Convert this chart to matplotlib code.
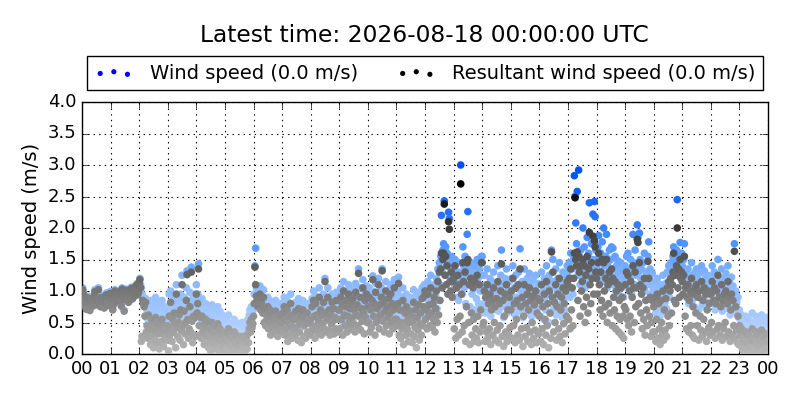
import numpy as np
import matplotlib
matplotlib.use("Agg")
import matplotlib.pyplot as plt
from matplotlib.colors import LinearSegmentedColormap

# ---- data: 40 samples per hour (1.5-minute spacing), values in m/s ----
wind_speed = [
    # 00
    0.95,1.05,0.98,0.88,0.82,0.78,0.74,0.85,0.92,0.80,0.76,0.72,0.84,0.90,0.86,0.79,0.83,0.95,1.02,0.88,
    0.81,0.87,0.92,1.05,0.90,0.84,0.78,0.88,0.93,0.86,0.80,0.76,0.85,0.91,0.97,0.89,0.83,0.80,0.94,0.99,
    # 01
    0.92,0.98,0.88,0.72,0.80,0.95,1.02,0.90,0.85,0.97,0.93,0.88,1.00,0.94,0.86,0.78,1.05,0.98,0.92,0.70,
    0.89,0.95,1.03,0.87,0.91,0.84,0.99,0.93,0.88,1.06,0.96,0.90,1.00,0.94,1.08,0.97,1.02,1.12,0.96,1.00,
    # 02
    1.15,1.20,1.10,1.05,0.95,0.90,0.85,0.80,0.75,0.88,0.62,0.70,0.55,0.82,0.48,0.65,0.58,0.85,0.52,0.75,
    0.45,0.68,0.60,0.90,0.72,0.55,0.80,0.62,0.50,0.78,0.66,0.58,0.85,0.70,0.48,0.62,0.75,0.55,0.68,0.60,
    # 03
    0.70,0.55,0.95,0.62,1.00,0.78,0.48,0.85,0.65,0.90,0.72,0.58,1.10,0.80,0.68,0.75,0.88,0.60,0.95,0.82,
    1.25,0.70,0.58,0.90,0.65,0.78,1.05,1.32,0.85,0.62,0.75,0.98,0.68,1.38,0.80,0.55,0.92,0.72,0.85,0.65,
    # 04
    1.10,0.85,0.95,1.43,0.70,0.60,0.75,0.50,0.88,0.55,0.68,0.45,0.62,0.80,0.40,0.58,0.72,0.35,0.50,0.65,
    0.42,0.55,0.78,0.48,0.62,0.38,0.70,0.52,0.45,0.60,0.75,0.40,0.55,0.68,0.35,0.50,0.62,0.45,0.58,0.48,
    # 05
    0.45,0.30,0.55,0.25,0.40,0.62,0.20,0.35,0.48,0.15,0.30,0.42,0.22,0.55,0.18,0.38,0.50,0.28,0.35,0.45,
    0.25,0.40,0.20,0.32,0.50,0.15,0.28,0.42,0.22,0.36,0.48,0.30,0.55,0.40,0.62,0.70,0.58,0.75,0.60,0.68,
    # 06
    0.75,0.95,1.40,1.68,1.05,0.95,0.88,1.00,0.92,1.08,0.85,0.98,0.90,0.82,1.02,0.70,0.88,0.65,0.80,0.72,
    0.90,0.60,0.78,0.85,0.55,0.68,0.82,0.62,0.75,0.70,0.58,0.85,0.65,0.78,0.52,0.72,0.60,0.80,0.68,0.62,
    # 07
    0.65,0.80,0.55,0.90,0.48,0.72,0.60,0.85,0.40,0.68,0.75,0.52,0.95,0.62,0.45,0.78,0.58,0.70,0.50,0.82,
    0.60,0.72,0.45,0.88,0.55,0.65,0.78,0.42,0.70,0.85,0.52,0.62,0.75,0.48,0.68,0.80,0.58,0.72,0.50,0.65,
    # 08
    0.70,0.55,0.88,0.62,1.00,0.75,0.48,0.92,0.65,0.80,0.58,0.72,1.05,0.60,0.85,0.52,0.78,0.68,0.95,0.62,
    1.20,0.80,0.58,0.72,1.05,0.60,0.85,0.52,0.78,0.68,0.95,0.70,0.88,0.55,0.75,0.62,0.98,0.72,0.58,0.85,
    # 09
    0.85,0.60,1.05,0.72,0.95,0.50,1.15,0.80,0.65,0.90,1.00,0.55,0.78,1.10,0.70,0.88,0.62,0.95,0.75,1.02,
    0.68,0.85,0.58,1.12,0.80,0.92,0.65,1.35,0.78,1.05,0.60,0.88,0.72,1.18,0.82,0.55,0.98,0.75,1.08,0.70,
    # 10
    0.90,0.70,1.05,0.55,0.85,0.62,1.00,1.24,0.78,0.95,0.50,1.12,0.68,0.88,0.75,1.20,0.60,0.92,0.80,1.05,
    1.35,0.72,0.98,0.58,0.85,1.15,0.65,0.90,0.78,1.02,0.55,0.82,1.10,0.70,0.95,0.62,0.88,1.18,0.75,0.92,
    # 11
    0.85,0.70,1.00,1.22,0.60,0.92,0.55,0.78,0.65,1.05,0.48,0.72,0.88,0.58,0.95,0.68,0.80,0.52,0.75,0.90,
    0.62,0.85,0.50,0.78,1.02,0.58,0.70,0.92,0.45,0.82,0.65,0.98,0.55,0.75,0.88,0.60,1.05,0.72,0.95,1.10,
    # 12
    1.05,0.75,0.90,0.60,1.15,0.82,0.95,0.70,1.25,0.88,0.65,1.00,0.78,1.10,0.58,0.92,1.20,0.72,1.35,0.85,
    1.45,1.10,1.55,2.20,1.30,1.65,1.75,2.43,1.50,1.70,1.40,1.60,1.25,2.25,2.15,1.45,1.30,1.55,1.20,1.40,
    # 13
    1.35,1.10,1.50,0.90,1.25,1.05,1.45,0.85,1.30,1.15,3.00,1.20,0.95,1.70,1.40,1.05,1.55,0.80,1.25,1.90,
    2.26,1.10,1.35,0.75,1.45,1.20,0.95,1.30,1.15,0.70,1.40,1.05,0.88,1.50,1.20,0.80,1.35,1.00,1.25,1.55,
    # 14
    1.55,1.00,0.80,1.25,0.65,1.10,0.90,1.35,0.72,1.05,0.85,1.20,0.60,0.95,1.15,0.78,1.30,0.88,1.00,0.70,
    1.12,0.82,1.40,0.68,1.05,0.92,1.25,1.65,0.75,1.10,0.58,0.98,1.20,0.85,1.35,0.65,1.02,0.78,1.15,0.90,
    # 15
    0.95,1.20,0.70,1.40,0.85,1.05,0.62,1.25,0.90,1.10,0.75,1.30,0.68,1.67,1.00,0.80,1.15,0.58,0.92,1.35,
    0.72,1.05,0.85,1.20,0.65,0.98,1.28,0.78,1.10,0.60,0.88,1.18,0.70,1.02,0.82,1.25,0.62,0.95,1.12,0.75,
    # 16
    0.85,1.10,0.60,1.30,0.75,1.00,0.55,1.20,0.90,0.70,1.40,0.80,1.05,0.50,1.25,0.95,0.65,1.65,1.15,1.50,
    0.72,1.08,0.88,1.35,0.62,1.00,1.20,0.78,1.45,0.68,0.95,1.15,0.58,1.30,0.85,1.05,0.70,1.25,0.92,1.40,
    # 17
    1.30,1.05,1.45,0.90,1.60,1.20,1.35,0.95,1.50,2.83,2.50,2.08,1.75,2.58,1.25,2.92,1.55,1.10,1.65,1.35,
    1.45,2.00,1.20,1.70,1.05,1.50,1.30,1.85,1.15,1.60,2.40,1.40,1.25,1.75,1.50,2.22,1.35,2.42,2.18,1.65,
    # 18
    1.50,1.35,1.70,1.88,1.45,1.20,1.60,1.30,1.78,1.15,2.00,1.40,1.25,1.55,1.90,1.05,1.45,1.30,1.65,1.20,
    1.50,1.70,1.10,1.68,1.35,1.25,1.55,1.00,1.40,1.20,1.48,0.95,1.30,1.15,1.45,1.05,1.35,1.20,0.90,1.25,
    # 19
    1.40,1.25,1.55,1.15,1.60,1.05,1.35,1.20,1.50,0.95,1.30,1.90,1.45,1.10,1.65,1.25,1.40,2.05,1.85,1.30,
    1.92,1.50,1.20,1.35,1.05,1.45,1.15,1.60,1.00,1.30,1.25,1.10,1.55,1.78,1.20,1.35,0.95,1.15,1.28,1.05,
    # 20
    1.00,0.80,1.15,0.65,0.90,1.20,0.70,1.05,0.85,0.60,1.10,0.95,0.75,1.25,0.68,0.98,0.82,1.12,0.72,1.30,
    1.05,1.40,0.90,1.25,1.45,1.10,1.35,1.55,1.70,1.30,1.50,1.25,1.65,2.45,1.40,1.60,1.35,1.77,1.50,1.60,
    # 21
    1.40,1.20,1.50,1.75,1.05,1.30,0.90,1.15,1.35,0.80,1.10,1.25,0.95,1.45,0.85,1.00,1.20,0.75,1.30,1.10,
    1.35,0.92,1.18,0.70,1.28,1.05,0.88,1.40,0.78,1.15,1.00,1.32,0.85,1.22,0.72,1.08,1.25,0.95,1.12,0.82,
    # 22
    1.20,0.95,1.40,0.80,1.10,1.30,0.70,1.05,1.25,0.85,1.50,0.90,1.15,0.75,1.00,1.35,0.68,1.10,0.85,1.20,
    0.95,1.28,0.72,1.05,1.40,0.80,1.15,0.62,0.98,1.22,0.75,1.08,0.88,1.75,0.70,1.00,0.82,0.65,0.90,0.58,
    # 23
    0.70,0.55,0.40,0.62,0.30,0.50,0.25,0.45,0.35,0.60,0.20,0.42,0.30,0.55,0.15,0.38,0.48,0.25,0.65,0.35,
    0.50,0.28,0.45,0.60,0.22,0.40,0.55,0.32,0.18,0.48,0.38,0.62,0.25,0.45,0.55,0.30,0.42,0.58,0.35,0.50,
]
resultant_speed = [
    # 00
    0.92,1.02,0.95,0.85,0.79,0.75,0.71,0.82,0.89,0.77,0.73,0.69,0.81,0.87,0.83,0.76,0.80,0.92,0.99,0.85,
    0.78,0.84,0.89,1.02,0.87,0.81,0.75,0.85,0.90,0.83,0.77,0.73,0.82,0.88,0.94,0.86,0.80,0.77,0.91,0.96,
    # 01
    0.90,0.96,0.86,0.70,0.78,0.93,1.00,0.88,0.83,0.95,0.91,0.86,0.98,0.92,0.84,0.76,1.03,0.96,0.90,0.68,
    0.87,0.93,1.01,0.85,0.89,0.82,0.97,0.91,0.86,1.04,0.94,0.88,0.98,0.92,1.06,0.95,1.00,1.10,0.94,0.98,
    # 02
    1.12,1.18,1.05,0.20,0.28,0.85,0.80,0.75,0.60,0.82,0.35,0.45,0.25,0.62,0.30,0.40,0.15,0.55,0.28,0.45,
    0.10,0.38,0.22,0.58,0.42,0.18,0.50,0.32,0.08,0.48,0.35,0.20,0.55,0.40,0.12,0.30,0.45,0.25,0.38,0.22,
    # 03
    0.45,0.05,0.60,0.30,0.82,0.40,0.20,0.55,0.35,0.65,0.48,0.10,0.95,0.42,0.28,0.50,0.62,0.22,0.70,0.38,
    1.10,0.45,0.15,0.68,0.32,0.50,0.85,1.26,0.55,0.25,0.40,0.75,0.35,1.30,0.52,0.18,0.60,0.30,0.58,0.28,
    # 04
    0.95,0.65,0.80,1.35,0.45,0.30,0.58,0.25,0.60,0.35,0.40,0.15,0.48,0.55,0.20,0.30,0.52,0.10,0.28,0.40,
    0.05,0.25,0.50,0.18,0.35,0.08,0.45,0.22,0.12,0.32,0.48,0.06,0.28,0.40,0.03,0.20,0.35,0.10,0.30,0.15,
    # 05
    0.25,0.10,0.35,0.05,0.20,0.40,0.02,0.15,0.30,0.00,0.12,0.25,0.05,0.35,0.02,0.18,0.30,0.08,0.15,0.22,
    0.04,0.20,0.01,0.12,0.28,0.00,0.10,0.22,0.03,0.16,0.26,0.08,0.32,0.18,0.40,0.50,0.35,0.55,0.42,0.48,
    # 06
    0.60,0.80,1.38,1.10,0.92,0.85,0.75,0.88,0.80,0.95,0.70,0.86,0.78,0.65,0.90,0.50,0.72,0.45,0.62,0.55,
    0.75,0.40,0.60,0.70,0.30,0.50,0.65,0.42,0.58,0.52,0.35,0.68,0.45,0.60,0.28,0.55,0.38,0.62,0.48,0.40,
    # 07
    0.50,0.65,0.35,0.75,0.30,0.55,0.40,0.70,0.20,0.50,0.60,0.30,0.80,0.45,0.25,0.62,0.38,0.55,0.30,0.68,
    0.42,0.55,0.22,0.72,0.35,0.48,0.62,0.18,0.52,0.70,0.28,0.45,0.58,0.25,0.50,0.65,0.35,0.55,0.30,0.48,
    # 08
    0.55,0.35,0.75,0.40,0.85,0.60,0.25,0.80,0.45,0.62,0.35,0.55,0.90,0.38,0.70,0.30,0.62,0.48,0.82,0.40,
    1.15,0.65,0.35,0.55,0.90,0.38,0.70,0.30,0.62,0.48,0.82,0.52,0.72,0.32,0.58,0.40,0.85,0.55,0.35,0.70,
    # 09
    0.70,0.40,0.90,0.55,0.80,0.30,1.00,0.62,0.45,0.75,0.85,0.35,0.60,0.95,0.50,0.72,0.40,0.80,0.58,0.88,
    0.48,0.70,0.35,0.98,0.62,0.78,0.45,1.28,0.60,0.90,0.38,0.72,0.52,1.05,0.65,0.32,0.85,0.58,0.95,0.50,
    # 10
    0.75,0.50,0.90,0.35,0.70,0.42,0.85,1.18,0.60,0.80,0.30,0.98,0.50,0.72,0.55,1.10,0.40,0.78,0.62,0.90,
    1.32,0.52,0.82,0.35,0.68,1.00,0.45,0.75,0.58,0.88,0.32,0.65,0.95,0.50,0.80,0.40,0.70,1.05,0.55,0.78,
    # 11
    0.55,0.45,0.80,1.12,0.30,0.70,0.25,0.50,0.40,0.85,0.15,0.45,0.65,0.30,0.75,0.40,0.55,0.20,0.50,0.68,
    0.32,0.60,0.18,0.52,0.82,0.28,0.42,0.70,0.10,0.58,0.38,0.78,0.22,0.48,0.65,0.30,0.88,0.45,0.75,0.92,
    # 12
    1.00,0.55,0.70,0.40,0.95,0.60,0.78,0.45,1.05,0.65,0.42,0.80,0.55,0.90,0.35,0.72,1.00,0.50,1.15,0.62,
    1.30,0.85,1.35,1.60,1.05,1.50,1.60,2.38,1.25,1.55,1.10,1.40,0.95,2.10,1.98,1.15,1.00,1.30,0.90,1.15,
    # 13
    1.20,0.40,1.40,0.25,1.05,0.55,1.25,0.30,1.10,0.60,2.70,0.95,0.35,1.45,1.15,0.45,1.30,0.20,0.75,1.45,
    1.50,0.50,1.10,0.15,1.20,0.65,0.30,1.05,0.55,0.20,1.15,0.40,0.25,1.25,0.60,0.18,1.10,0.35,0.70,1.45,
    # 14
    1.45,0.45,0.50,1.00,0.20,0.90,0.35,1.10,0.25,0.80,0.40,0.95,0.15,0.70,0.85,0.30,1.05,0.50,0.75,0.22,
    0.88,0.38,1.15,0.18,0.80,0.45,1.00,1.43,0.28,0.85,0.12,0.60,0.95,0.35,1.10,0.20,0.70,0.30,0.90,0.42,
    # 15
    0.70,1.00,0.25,1.20,0.45,0.80,0.18,1.05,0.55,0.85,0.30,1.10,0.22,1.35,0.75,0.40,0.90,0.12,0.60,1.10,
    0.28,0.80,0.42,0.95,0.20,0.70,1.05,0.35,0.85,0.15,0.50,0.92,0.25,0.78,0.38,1.00,0.18,0.65,0.88,0.32,
    # 16
    0.60,0.85,0.20,1.10,0.40,0.75,0.15,0.95,0.55,0.30,1.15,0.45,0.80,0.10,1.00,0.65,0.25,1.62,0.90,1.30,
    0.35,0.82,0.50,1.10,0.22,0.75,0.95,0.40,1.20,0.28,0.70,0.90,0.18,1.05,0.48,0.80,0.32,1.00,0.60,1.15,
    # 17
    1.10,0.55,1.20,0.40,1.35,0.70,1.05,0.45,1.20,1.60,2.48,1.50,1.40,1.62,0.85,1.55,1.30,0.60,1.40,1.00,
    1.15,1.50,0.75,1.40,0.50,1.25,0.90,1.55,0.65,1.35,1.93,1.10,0.80,1.45,1.20,1.87,0.95,1.80,1.70,1.30,
    # 18
    1.20,0.95,1.45,1.60,1.10,0.70,1.30,0.85,1.50,0.60,1.45,1.00,0.75,1.20,1.50,0.50,1.10,0.80,1.30,0.65,
    1.15,1.35,0.45,1.20,0.90,0.70,1.15,0.40,1.00,0.60,1.10,0.35,0.85,0.55,1.05,0.30,0.90,0.60,0.25,0.75,
    # 19
    1.10,0.70,1.30,0.55,1.25,0.45,1.00,0.60,1.15,0.35,0.90,1.40,1.05,0.50,1.30,0.75,1.05,1.82,1.77,0.80,
    1.45,1.10,0.65,0.95,0.40,1.05,0.55,1.20,0.30,0.85,0.70,0.45,1.47,1.20,0.60,0.90,0.28,0.50,0.85,0.35,
    # 20
    0.75,0.35,0.90,0.20,0.55,0.95,0.25,0.80,0.40,0.15,0.85,0.50,0.30,1.00,0.22,0.70,0.38,0.88,0.28,1.05,
    0.60,1.15,0.45,1.00,1.20,0.65,1.10,1.30,1.60,0.85,1.25,0.80,1.40,2.00,1.05,1.35,0.90,1.50,1.20,1.30,
    # 21
    1.15,0.95,1.25,1.55,0.60,1.05,0.40,0.90,1.10,0.35,0.85,1.00,0.45,1.20,0.30,0.75,0.95,0.25,1.05,0.65,
    1.10,0.45,0.90,0.22,1.00,0.60,0.38,1.15,0.28,0.85,0.55,1.05,0.35,0.95,0.20,0.70,1.00,0.42,0.80,0.30,
    # 22
    0.95,0.50,1.15,0.35,0.85,1.05,0.25,0.80,1.00,0.40,1.25,0.45,0.90,0.30,0.75,1.10,0.22,0.85,0.40,0.95,
    0.50,1.00,0.28,0.80,1.15,0.35,0.90,0.20,0.70,0.95,0.30,0.85,0.45,1.63,0.25,0.75,0.38,0.18,0.60,0.15,
    # 23
    0.45,0.30,0.15,0.40,0.08,0.25,0.05,0.20,0.10,0.35,0.02,0.18,0.05,0.30,0.00,0.12,0.22,0.03,0.40,0.10,
    0.25,0.05,0.20,0.35,0.02,0.15,0.30,0.08,0.00,0.22,0.12,0.38,0.04,0.18,0.28,0.06,0.15,0.32,0.10,0.20,
]
hour_labels = ["%02d" % h for h in range(24)] + ["00"]
title_text = "Latest time: 2026-08-18 00:00:00 UTC"
wind_label = "Wind speed (0.0 m/s)"
res_label = "Resultant wind speed (0.0 m/s)"

plt.style.use("classic")
fig = plt.figure(figsize=(8, 4), dpi=100, facecolor="white")
ax = fig.add_axes([0.1025, 0.115, 0.8575, 0.63])

n = len(wind_speed)
hours = np.arange(n) * 24.0 / n

blue_cmap = LinearSegmentedColormap.from_list(
    "wblue", [(0.0, "#cfe0ff"), (0.2, "#a6c9ff"), (0.4, "#86b6ff"),
              (0.55, "#5c9dff"), (0.7, "#2d76ff"), (1.0, "#0050f0")])
gray_cmap = LinearSegmentedColormap.from_list(
    "wgray", [(0.0, "#b8b8b8"), (0.37, "#767676"), (0.74, "#3a3a3a"), (1.0, "#000000")])

ax.scatter(hours, wind_speed, c=wind_speed, cmap=blue_cmap, vmin=0, vmax=3.0,
           s=30, edgecolors="none", zorder=2)
ax.scatter(hours, resultant_speed, c=resultant_speed, cmap=gray_cmap, vmin=0, vmax=2.7,
           s=30, edgecolors="none", zorder=3)

# legend proxies
h1 = ax.scatter([], [], c="b", s=14, edgecolors="none", label=wind_label)
h2 = ax.scatter([], [], c="k", s=14, edgecolors="none", label=res_label)
leg = ax.legend(handles=[h1, h2], loc="lower center", bbox_to_anchor=(0.5, 1.0),
                ncol=2, scatterpoints=3, fontsize=14, frameon=True, fancybox=False,
                borderpad=0.4, borderaxespad=0.6, columnspacing=2.0,
                handlelength=2.0, handletextpad=0.85)
leg.get_frame().set_edgecolor("black")

fig.text(0.53, 0.912, title_text, ha="center", va="center", fontsize=16.8)

ax.set_xlim(0, 24)
ax.set_ylim(0, 4.0)
ax.set_xticks(np.arange(25))
ax.set_xticklabels(hour_labels)
ax.set_yticks(np.arange(0, 4.01, 0.5))
ax.set_yticklabels(["%.1f" % v for v in np.arange(0, 4.01, 0.5)])
ax.tick_params(labelsize=13)
ax.set_ylabel("Wind speed (m/s)", fontsize=14)
ax.grid(True, linestyle=":", color="black", linewidth=0.8)
ax.set_axisbelow(True)

fig.savefig("out.png", dpi=100, facecolor="white")
